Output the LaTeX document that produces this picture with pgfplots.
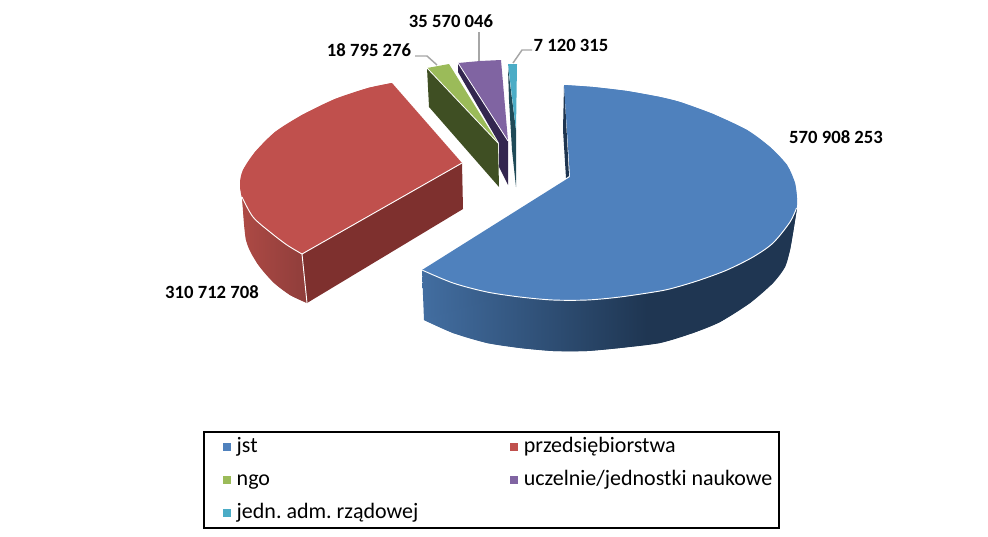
\documentclass[border=0pt]{standalone}
\usepackage{fontspec}
\setmainfont{Carlito}
\usepackage{pgfplots}
\pgfplotsset{compat=1.18}
\definecolor{cblue}{HTML}{4F81BD}
\definecolor{cred}{HTML}{C0504D}
\definecolor{cgreen}{HTML}{9BBB59}
\definecolor{cpurple}{HTML}{8064A2}
\definecolor{cteal}{HTML}{4BACC6}
\definecolor{bluedark}{HTML}{1F3550}
\definecolor{reddark}{HTML}{7E302E}
\definecolor{greendark}{HTML}{3F4F23}
\definecolor{purpledark}{HTML}{33264F}
\definecolor{tealdark}{HTML}{1F4A57}
\definecolor{leader}{HTML}{A6A6A6}
% side walls of the two big slices
\pgfdeclarehorizontalshading{bluewall}{100bp}{rgb(0bp)=(0.26,0.43,0.63); rgb(25bp)=(0.26,0.43,0.63); rgb(55bp)=(0.12,0.21,0.32); rgb(100bp)=(0.12,0.21,0.32)}
\pgfdeclarehorizontalshading{redwall}{100bp}{rgb(0bp)=(0.68,0.29,0.27); rgb(25bp)=(0.68,0.29,0.27); rgb(75bp)=(0.56,0.24,0.23); rgb(100bp)=(0.56,0.24,0.23)}
\newcommand{\lab}[3]{\node[font=\fontsize{14pt}{16pt}\selectfont\bfseries,inner sep=0pt] at (axis cs:#1,#2) {#3};}
\begin{document}
\begin{tikzpicture}
\begin{axis}[
  scale only axis, width=741pt, height=402pt,
  xmin=0, xmax=988, ymin=0, ymax=536, y dir=reverse,
  hide axis, clip=false,
  legend columns=2,
  legend cell align=left,
  legend image code/.code={\node[inner sep=0pt, minimum width=8.25pt, minimum height=1pt, text height=0pt, text depth=0pt, anchor=east] at (0pt,0pt) {}; \fill[#1] (0pt,-3pt) rectangle (6pt,3pt);},
  legend style={at={(0.2055,0.1959)}, anchor=north west, draw=black, line width=1.5pt,
    font=\fontsize{16.5pt}{19pt}\selectfont, inner xsep=5pt, inner ysep=3pt,
    nodes={inner xsep=0pt, inner ysep=0pt, text height=12pt, text depth=4pt},
    /tikz/column 1/.style={column sep=4.5pt},
    /tikz/column 2/.style={column sep=59.5pt},
    /tikz/column 3/.style={column sep=4.5pt},
    row sep=9pt},
  every axis plot/.append style={no markers},
]
% blue slice: wall, inner sliver, top; each outline is a plain polygon, the rims go over it smoothed
\addplot[forget plot, draw=none, shading=bluewall] coordinates {
  (422,270)(424,320)(453,333)(487,343)(520,348)(553,351)(587,351)(620,348)(660,343)(693,333)(720,322)(750,303)(773,283)(785,267)(790,250)(793,233)(797,208)};
\addplot[forget plot, draw=none, smooth, shading=bluewall] coordinates {
  (424,320)(453,333)(487,343)(520,348)(553,351)(587,351)(620,348)(660,343)(693,333)(720,322)(750,303)(773,283)(785,267)(790,250)(793,233)(797,208)};
\addplot[forget plot, draw=none, fill=bluedark] coordinates {(564,86)(563,130)(566,178)(569,176)(565,100)};
\addplot[fill=cblue, draw=none] coordinates {
  (570,177)(564,85)(593,87)(627,91)(660,97)(680,102)(713,114)(747,130)(770,147)(787,165)(795,183)(797,198)(796.5,208)(790,222)(773,243)(753,257)(727,270)(700,280)(677,287)(660,291)(620,297)(587,300)(553,300)(520,297)(487,292)(453,283)(422,270)};
\addlegendentry{jst}
\addplot[forget plot, fill=cblue, draw=none, smooth] coordinates {
  (564,85)(593,87)(627,91)(660,97)(680,102)(713,114)(747,130)(770,147)(787,165)(795,183)(797,198)};
\addplot[forget plot, fill=cblue, draw=none, smooth] coordinates {
  (797,198)(796.5,208)(790,222)(773,243)(753,257)(727,270)(700,280)(677,287)(660,291)(620,297)(587,300)(553,300)(520,297)(487,292)(453,283)(422,270)};
\addplot[forget plot, white, line width=0.7pt, smooth] coordinates {(796.5,208)(790,222)(773,243)(753,257)(727,270)(700,280)(677,287)(660,291)(620,297)(587,300)(553,300)(520,297)(487,292)(453,283)(422,270)};
% red slice
\addplot[forget plot, draw=none, shading=redwall] coordinates {
  (241,190)(242,197)(246,240)(257,263)(273,282)(290,295)(307,303)(302,254)};
\addplot[forget plot, draw=none, smooth, shading=redwall] coordinates {
  (241,190)(242,197)(246,240)(257,263)(273,282)(290,295)(307,303)};
\addplot[forget plot, fill=reddark, draw=none] coordinates {(462,163)(463,209)(307,303)(302,254)};
\addplot[fill=cred, draw=none] coordinates {
  (462,163)(392,83)(368,88)(335,99)(302,115)(275,132)(255,152)(243,170)(240,183)(242,197)(253,217)(270,232)(287,245)(302,254)};
\addlegendentry{przedsiębiorstwa}
\addplot[forget plot, fill=cred, draw=none, smooth] coordinates {
  (392,83)(368,88)(335,99)(302,115)(275,132)(255,152)(243,170)(240,183)(242,197)(253,217)(270,232)(287,245)(302,254)};
\addplot[forget plot, white, line width=0.7pt, smooth] coordinates {(242,197)(253,217)(270,232)(287,245)(302,254)};
\addplot[forget plot, white, line width=0.7pt] coordinates {(307,303)(302,254)(462,163)};
% small slices
\addplot[forget plot, fill=greendark, draw=none] coordinates {(427,68)(498,143)(499,187)(429,107)};
\addplot[fill=cgreen, draw=none] coordinates {(427,68)(449,64)(498,143)};
\addlegendentry{ngo}
\addplot[forget plot, white, line width=0.6pt] coordinates {(427,68)(498,143)};
\addplot[forget plot, fill=purpledark, draw=none] coordinates {(458,63)(508,141)(508,185)(499,167)(499,143)(458,72)};
\addplot[fill=cpurple, draw=none] coordinates {(458,63)(480,61)(501,60)(508,141)};
\addlegendentry{uczelnie/jednostki naukowe}
\addplot[forget plot, white, line width=0.6pt] coordinates {(458,63)(508,141)};
\addplot[forget plot, fill=tealdark, draw=none] coordinates {(508,68)(516,130)(516,187)(512,150)(509,100)};
\addplot[fill=cteal, draw=none] coordinates {(508,64)(517,64)(516,130)};
\addlegendentry{\spaceskip=0.15em jedn. adm. rządowej}
% leader lines
\addplot[forget plot, leader, line width=1.1pt] coordinates {(415,56)(427,56)(437,65)};
\addplot[forget plot, leader, line width=1.1pt] coordinates {(479,32)(479,61)};
\addplot[forget plot, leader, line width=1.1pt] coordinates {(532,50)(522,50)(513,63)};
\lab{836}{137}{570 908 253}
\lab{212}{292}{310 712 708}
\lab{369}{50}{18 795 276}
\lab{451}{21}{35 570 046}
\lab{571}{45}{7 120 315}
\end{axis}
\useasboundingbox (0,0) rectangle (741pt,402pt);
\end{tikzpicture}
\end{document}
